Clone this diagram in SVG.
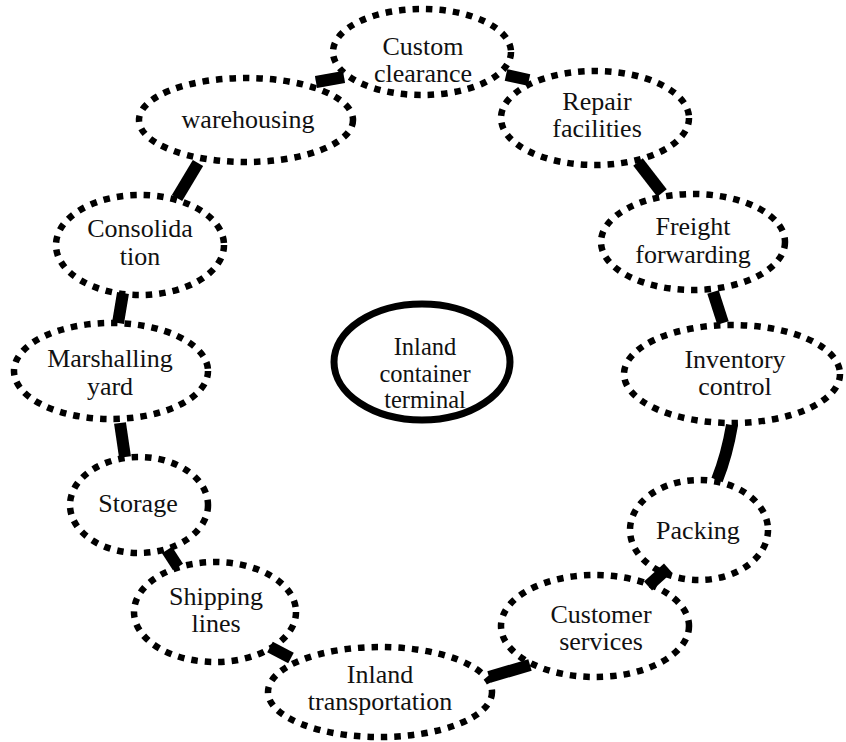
<svg xmlns="http://www.w3.org/2000/svg" width="846" height="742" viewBox="0 0 846 742">
  <style>
    .ring { fill: #fff; stroke: #000; stroke-width: 6.5; stroke-dasharray: 6.5 7; }
    .hub { fill: #fff; stroke: #000; stroke-width: 7; }
    .lbl { font-family: "Liberation Serif", "Times New Roman", serif; font-size: 26px; fill: #111; text-anchor: middle; }
    .hub-lbl { font-size: 24.5px; }
    .link { stroke: #000; stroke-width: 12; stroke-linecap: butt; fill: none; }
  </style>
  <rect width="846" height="742" fill="#fff"/>

  <g id="nodes">
    <g id="custom-clearance">
      <ellipse class="ring" cx="422" cy="52" rx="89" ry="43"/>
      <text class="lbl" x="423" y="55">Custom</text>
      <text class="lbl" x="423" y="82">clearance</text>
    </g>
    <g id="repair-facilities">
      <ellipse class="ring" cx="595" cy="118" rx="94" ry="47"/>
      <text class="lbl" x="597" y="110">Repair</text>
      <text class="lbl" x="597" y="137">facilities</text>
    </g>
    <g id="warehousing">
      <ellipse class="ring" cx="246" cy="120" rx="107" ry="42"/>
      <text class="lbl" x="248" y="128">warehousing</text>
    </g>
    <g id="freight-forwarding">
      <ellipse class="ring" cx="693" cy="242" rx="92" ry="48"/>
      <text class="lbl" x="693" y="235">Freight</text>
      <text class="lbl" x="693" y="263">forwarding</text>
    </g>
    <g id="consolidation">
      <ellipse class="ring" cx="140" cy="245" rx="84" ry="50"/>
      <text class="lbl" x="140" y="237">Consolida</text>
      <text class="lbl" x="140" y="265">tion</text>
    </g>
    <g id="marshalling-yard">
      <ellipse class="ring" cx="111" cy="371" rx="97" ry="48"/>
      <text class="lbl" x="110" y="367">Marshalling</text>
      <text class="lbl" x="110" y="395">yard</text>
    </g>
    <g id="inland-container-terminal">
      <ellipse class="hub" cx="422" cy="362" rx="88" ry="58"/>
      <text class="lbl hub-lbl" x="425" y="355">Inland</text>
      <text class="lbl hub-lbl" x="425" y="382">container</text>
      <text class="lbl hub-lbl" x="425" y="408">terminal</text>
    </g>
    <g id="inventory-control">
      <ellipse class="ring" cx="732" cy="374" rx="108" ry="49"/>
      <text class="lbl" x="735" y="368">Inventory</text>
      <text class="lbl" x="735" y="395">control</text>
    </g>
    <g id="storage">
      <ellipse class="ring" cx="139" cy="505" rx="69" ry="48"/>
      <text class="lbl" x="138" y="512">Storage</text>
    </g>
    <g id="packing">
      <ellipse class="ring" cx="699" cy="530" rx="69" ry="50"/>
      <text class="lbl" x="698" y="539">Packing</text>
    </g>
    <g id="shipping-lines">
      <ellipse class="ring" cx="215" cy="612" rx="81" ry="50"/>
      <text class="lbl" x="216" y="605">Shipping</text>
      <text class="lbl" x="216" y="632">lines</text>
    </g>
    <g id="customer-services">
      <ellipse class="ring" cx="595" cy="626" rx="94" ry="51"/>
      <text class="lbl" x="601" y="623">Customer</text>
      <text class="lbl" x="601" y="650">services</text>
    </g>
    <g id="inland-transportation">
      <ellipse class="ring" cx="380" cy="692" rx="112" ry="45"/>
      <text class="lbl" x="380" y="683">Inland</text>
      <text class="lbl" x="380" y="710">transportation</text>
    </g>
  </g>

  <g id="connectors">
    <line x1="316" y1="82" x2="344" y2="77" stroke="#9fb6d8" stroke-width="11"/>
    <line class="link" x1="316" y1="82" x2="344" y2="77" stroke-width="7"/>
    <line class="link" x1="506" y1="75" x2="529" y2="80" stroke-width="9"/>
    <line class="link" x1="638" y1="162" x2="662" y2="193"/>
    <line class="link" x1="713" y1="292" x2="723" y2="323" stroke="#333"/>
    <path class="link" d="M732 425 Q727 455 717 480" stroke-width="13"/>
    <line class="link" x1="198" y1="163" x2="177" y2="198"/>
    <line class="link" x1="123" y1="293" x2="118" y2="323"/>
    <line class="link" x1="120" y1="423" x2="125" y2="457"/>
    <line class="link" x1="167" y1="550" x2="178" y2="567"/>
    <line class="link" x1="270" y1="647" x2="291" y2="658"/>
    <line class="link" x1="489" y1="677" x2="530" y2="665" stroke-width="11"/>
    <line class="link" x1="648" y1="586" x2="668" y2="568"/>
  </g>
</svg>
